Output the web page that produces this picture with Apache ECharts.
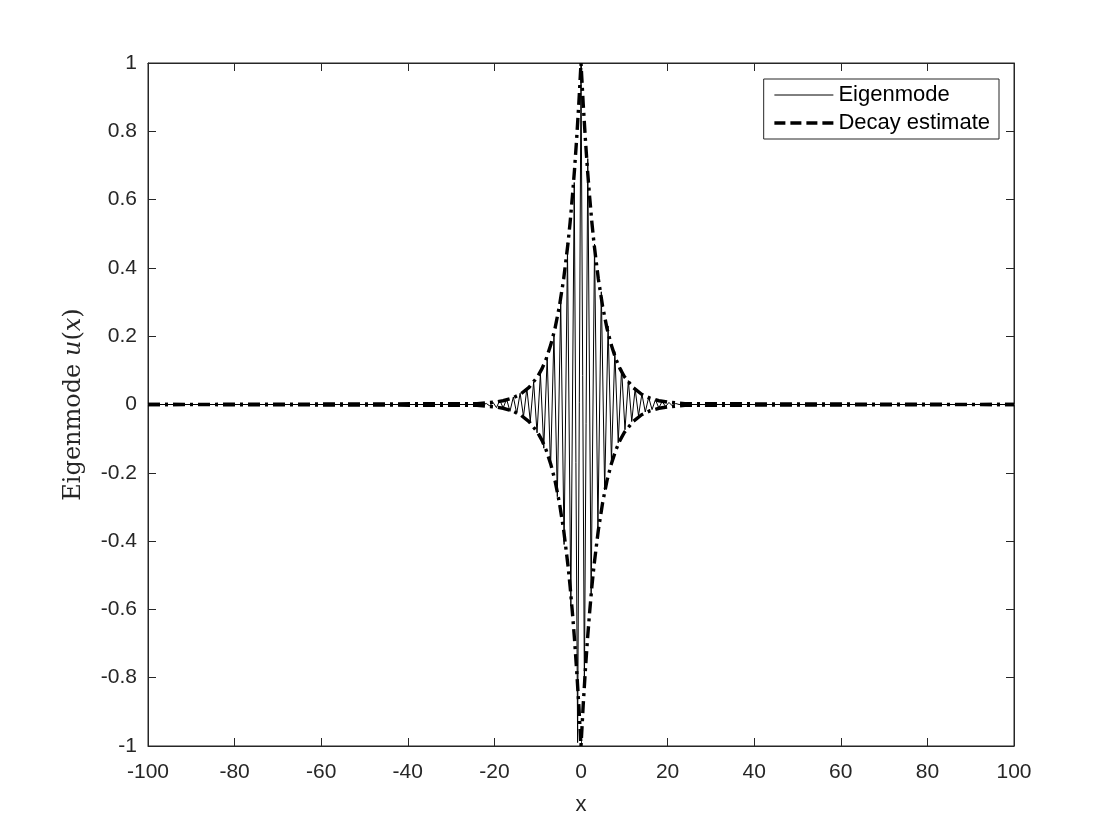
<!DOCTYPE html>
<html>
<head>
<meta charset="utf-8">
<script src="https://cdn.jsdelivr.net/npm/echarts@6/dist/echarts.min.js"></script>
<style>
  html, body { margin: 0; padding: 0; background: #fff; }
  #main { width: 1120px; height: 840px; }
</style>
</head>
<body>
<div id="main"></div>
<script>
// x-axis ticks
const xTicks = [-100, -80, -60, -40, -20, 0, 20, 40, 60, 80, 100];
// eigenmode samples: grid spacing 200/256, first sample at k = -28
const gridStep = 0.78125;
const modeFirstK = -28;
const modeValues = [
  0.003, -0.004, 0.006, -0.009, 0.012, -0.010, 0.016, -0.020, 0.022, -0.026,
  0.033, -0.035, 0.047, -0.049, 0.066, -0.083, 0.090, -0.128, 0.138, -0.186,
  0.205, -0.270, 0.300, -0.410, 0.455, -0.590, 0.650, -0.990, 1.000, -0.830,
  0.720, -0.560, 0.470, -0.360, 0.330, -0.250, 0.230, -0.165, 0.155, -0.112,
  0.105, -0.074, 0.070, -0.050, 0.046, -0.033, 0.031, -0.022, 0.021, -0.015,
  0.014, -0.010, 0.009, -0.006, 0.006, -0.004, 0.003
];
// decay estimate, read off the dashed envelope
const decayX = [-100, -24, -20, -18, -16, -14, -12, -10, -9, -8, -7, -6, -5, -4, -3, -2.5, -2, -1.5, -1, -0.5,
  0, 0.5, 1, 1.5, 2, 2.5, 3, 4, 5, 6, 7, 8, 9, 10, 12, 14, 16, 18, 20, 24, 100];
const decayUpper = [0, 0.0025, 0.007, 0.011, 0.018, 0.030, 0.050, 0.082, 0.105, 0.135, 0.174, 0.223, 0.287, 0.368, 0.472, 0.535, 0.607, 0.687, 0.779, 0.882,
  1.0, 0.882, 0.779, 0.687, 0.607, 0.535, 0.472, 0.368, 0.287, 0.223, 0.174, 0.135, 0.105, 0.082, 0.050, 0.030, 0.018, 0.011, 0.007, 0.0025, 0];
const decayLower = [0, -0.0025, -0.007, -0.011, -0.018, -0.030, -0.050, -0.082, -0.105, -0.135, -0.174, -0.223, -0.287, -0.368, -0.472, -0.535, -0.607, -0.687, -0.779, -0.882,
  -1.0, -0.882, -0.779, -0.687, -0.607, -0.535, -0.472, -0.368, -0.287, -0.223, -0.174, -0.135, -0.105, -0.082, -0.050, -0.030, -0.018, -0.011, -0.007, -0.0025, 0];

var modeData = [[xTicks[0], 0], [(modeFirstK - 1) * gridStep, 0]];
for (let i = 0; i < modeValues.length; i++) {
  modeData.push([(modeFirstK + i) * gridStep, modeValues[i]]);
}
modeData.push([(modeFirstK + modeValues.length) * gridStep, 0]);
modeData.push([xTicks[xTicks.length - 1], 0]);

var upperData = decayX.map((x, i) => [x, decayUpper[i]]);
var lowerData = decayX.map((x, i) => [x, decayLower[i]]);

const axisColor = '#262626';
const sansFont = 'Liberation Sans, Arial, sans-serif';
const dashDot = [12, 5, 3, 5];

var myChart = echarts.init(document.getElementById('main'));
var option = {
  animation: false,
  backgroundColor: '#fff',
  grid: { left: 148, right: 106, top: 63, bottom: 94, show: true, borderColor: axisColor, borderWidth: 1 },
  legend: {
    orient: 'vertical',
    right: 121,
    top: 79,
    padding: [5, 9, 5, 9],
    itemGap: 6,
    itemWidth: 59,
    itemHeight: 14,
    backgroundColor: '#fff',
    borderColor: axisColor,
    borderWidth: 1,
    borderRadius: 0,
    itemStyle: { opacity: 0 },
    textStyle: { fontFamily: sansFont, fontSize: 22, color: '#000' },
    data: [
      { name: 'Eigenmode', lineStyle: { width: 1 } },
      { name: 'Decay estimate', lineStyle: { width: 3.4, type: [11, 5] } }
    ]
  },
  xAxis: [
    {
      type: 'value', min: -100, max: 100, interval: 20,
      name: 'x', nameLocation: 'middle', nameGap: 48,
      nameTextStyle: { fontFamily: sansFont, fontSize: 22, color: axisColor },
      axisLine: { show: true, onZero: false, lineStyle: { color: axisColor } },
      axisTick: { show: true, inside: true, length: 8, lineStyle: { color: axisColor } },
      axisLabel: { fontFamily: sansFont, fontSize: 21, color: axisColor, margin: 16 },
      splitLine: { show: false }
    },
    {
      type: 'value', min: -100, max: 100, interval: 20, position: 'top',
      axisLine: { show: true, onZero: false, lineStyle: { color: axisColor } },
      axisTick: { show: true, inside: true, length: 8, lineStyle: { color: axisColor } },
      axisLabel: { show: false },
      splitLine: { show: false }
    }
  ],
  yAxis: [
    {
      type: 'value', min: -1, max: 1, interval: 0.2,
      name: 'Eigenmode {i|u}({i|x})', nameLocation: 'middle', nameGap: 62,
      nameTextStyle: {
        fontFamily: 'DejaVu Serif, serif', fontSize: 24, color: axisColor,
        rich: { i: { fontFamily: 'DejaVu Serif, serif', fontStyle: 'italic', fontSize: 24, color: axisColor } }
      },
      axisLine: { show: true, onZero: false, lineStyle: { color: axisColor } },
      axisTick: { show: true, inside: true, length: 8, lineStyle: { color: axisColor } },
      axisLabel: { fontFamily: sansFont, fontSize: 21, color: axisColor, margin: 11 },
      splitLine: { show: false }
    },
    {
      type: 'value', min: -1, max: 1, interval: 0.2, position: 'right',
      axisLine: { show: true, onZero: false, lineStyle: { color: axisColor } },
      axisTick: { show: true, inside: true, length: 8, lineStyle: { color: axisColor } },
      axisLabel: { show: false },
      splitLine: { show: false }
    }
  ],
  series: [
    {
      name: 'Eigenmode', type: 'line', data: modeData,
      showSymbol: false, symbol: 'none',
      lineStyle: { color: '#000', width: 1 },
      itemStyle: { color: '#000' }
    },
    {
      name: 'Decay estimate', type: 'line', data: upperData,
      showSymbol: false, symbol: 'none',
      lineStyle: { color: '#000', width: 3.4, type: dashDot },
      itemStyle: { color: '#000' }
    },
    {
      name: 'Decay estimate', type: 'line', data: lowerData,
      showSymbol: false, symbol: 'none',
      lineStyle: { color: '#000', width: 3.4, type: dashDot },
      itemStyle: { color: '#000' }
    }
  ]
};
myChart.setOption(option);
</script>
</body>
</html>
